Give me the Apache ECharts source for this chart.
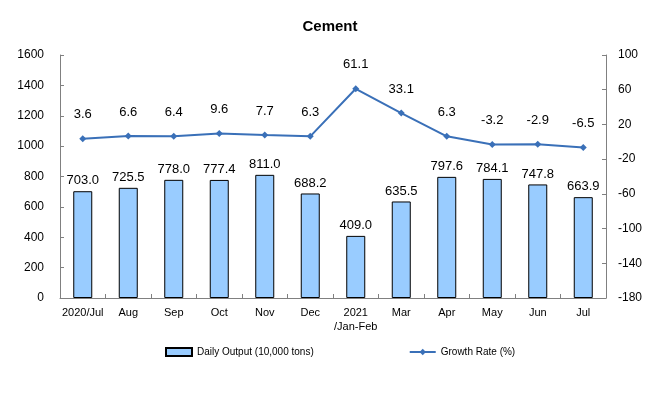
<!DOCTYPE html>
<html>
<head>
<meta charset="utf-8">
<script src="https://cdn.jsdelivr.net/npm/echarts@6/dist/echarts.min.js"></script>
<style>
  html, body { margin: 0; padding: 0; background: #fff; }
  #chart { width: 660px; height: 396px; }
</style>
</head>
<body>
<div id="chart"></div>
<script>
const months = ['2020/Jul', 'Aug', 'Sep', 'Oct', 'Nov', 'Dec', '2021\n/Jan-Feb', 'Mar', 'Apr', 'May', 'Jun', 'Jul'];
const dailyOutput = [703.0, 725.5, 778.0, 777.4, 811.0, 688.2, 409.0, 635.5, 797.6, 784.1, 747.8, 663.9];
const growthRate = [3.6, 6.6, 6.4, 9.6, 7.7, 6.3, 61.1, 33.1, 6.3, -3.2, -2.9, -6.5];

const font = 'Liberation Sans, Arial, sans-serif';
const axisLine = { show: true, lineStyle: { color: '#808080', width: 1 } };

const chart = echarts.init(document.getElementById('chart'));
chart.setOption({
  animation: false,
  textStyle: { fontFamily: font },
  title: {
    text: 'Cement', left: 'center', top: 14,
    textStyle: { fontFamily: font, fontSize: 15, fontWeight: 'bold', color: '#000' }
  },
  grid: { left: 60, right: 54, top: 55, bottom: 98 },
  legend: {
    bottom: 34, left: 160, itemGap: 95, itemWidth: 26, itemHeight: 8,
    textStyle: { fontFamily: font, fontSize: 10, color: '#000' },
    data: [
      { name: 'Daily Output (10,000 tons)', icon: 'rect' },
      { name: 'Growth Rate (%)' }
    ]
  },
  xAxis: {
    type: 'category', data: months,
    axisLine: axisLine,
    axisTick: { show: true, inside: true, length: 4, alignWithLabel: false, lineStyle: { color: '#808080' } },
    axisLabel: { color: '#000', fontSize: 11, margin: 8, interval: 0, lineHeight: 14 }
  },
  yAxis: [
    {
      type: 'value', min: 0, max: 1600, interval: 200,
      axisLine: axisLine,
      axisTick: { show: true, inside: true, length: 4, lineStyle: { color: '#808080' } },
      axisLabel: { color: '#000', fontSize: 12, margin: 16, formatter: v => String(v) },
      splitLine: { show: false }
    },
    {
      type: 'value', min: -180, max: 100, interval: 40,
      axisLine: axisLine,
      axisTick: { show: true, inside: true, length: 4, lineStyle: { color: '#808080' } },
      axisLabel: { color: '#000', fontSize: 12, margin: 12, formatter: v => String(v) },
      splitLine: { show: false }
    }
  ],
  series: [
    {
      name: 'Daily Output (10,000 tons)', type: 'bar', data: dailyOutput, yAxisIndex: 0,
      barWidth: 19,
      itemStyle: { color: '#99ccff', borderColor: '#000', borderWidth: 1 },
      label: { show: true, position: 'top', distance: 4, color: '#000', fontSize: 13, formatter: p => p.value.toFixed(1) }
    },
    {
      name: 'Growth Rate (%)', type: 'line', data: growthRate, yAxisIndex: 1,
      symbol: 'diamond', symbolSize: 7,
      lineStyle: { color: '#3a70b8', width: 2 },
      itemStyle: { color: '#3a70b8' },
      label: { show: true, position: 'top', distance: 14, color: '#000', fontSize: 13, formatter: p => p.value.toFixed(1) }
    }
  ]
});
</script>
</body>
</html>
